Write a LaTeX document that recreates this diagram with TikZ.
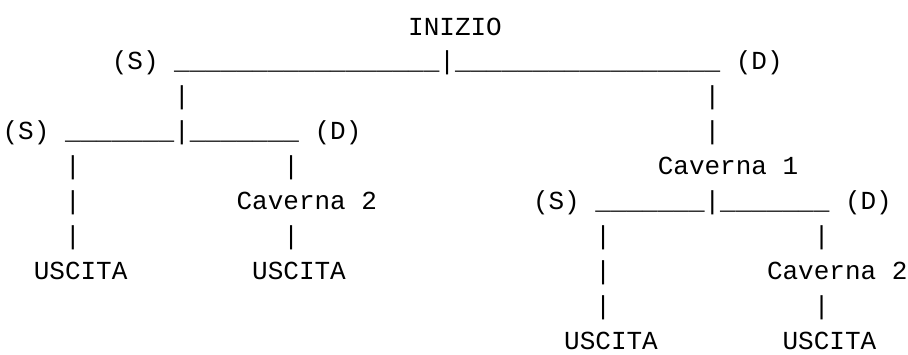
\documentclass[tikz,border=0pt]{standalone}
\usepackage{fontspec}
\newfontfamily\asciifont{Liberation Mono}
\tikzset{
  txt/.style={anchor=base west, inner sep=0pt, outer sep=0pt, text=black,
    font=\asciifont\fontsize{26}{26}\selectfont}
}
% token: name, line, column, text (monospace cell = 15.6pt)
\newcommand\tok[4]{\node[txt] (#1) at ({2.6+15.6*#3},{35+34.9*(#2-1)}) {#4};}
\newcommand\usA{\_\_\_\_\_\_\_}
\newcommand\usB{\_\_\_\_\_\_\_\_\_\_\_\_\_\_\_\_\_}
\begin{document}
\begin{tikzpicture}[x=1pt,y=-1pt]
\useasboundingbox (0,0) rectangle (908,354);
\fill[white] (0,0) rectangle (908,354);
% line 1
\tok{inizio}{1}{26}{INIZIO}
% line 2
\tok{sA}{2}{7}{(S)}
\tok{ulA}{2}{11}{\usB}
\tok{barA}{2}{28}{\textbar}
\tok{urA}{2}{29}{\usB}
\tok{dA}{2}{47}{(D)}
% line 3
\tok{vA1}{3}{11}{\textbar}
\tok{vB1}{3}{45}{\textbar}
% line 4
\tok{sB}{4}{0}{(S)}
\tok{ulB}{4}{4}{\usA}
\tok{barB}{4}{11}{\textbar}
\tok{urB}{4}{12}{\usA}
\tok{dB}{4}{20}{(D)}
\tok{vB2}{4}{45}{\textbar}
% line 5
\tok{vC1}{5}{4}{\textbar}
\tok{vD1}{5}{18}{\textbar}
\tok{cav1}{5}{42}{Caverna 1}
% line 6
\tok{vC2}{6}{4}{\textbar}
\tok{cav2a}{6}{15}{Caverna 2}
\tok{sC}{6}{34}{(S)}
\tok{ulC}{6}{38}{\usA}
\tok{barC}{6}{45}{\textbar}
\tok{urC}{6}{46}{\usA}
\tok{dC}{6}{54}{(D)}
% line 7
\tok{vC3}{7}{4}{\textbar}
\tok{vD2}{7}{18}{\textbar}
\tok{vE1}{7}{38}{\textbar}
\tok{vF1}{7}{52}{\textbar}
% line 8
\tok{usc1}{8}{2}{USCITA}
\tok{usc2}{8}{16}{USCITA}
\tok{vE2}{8}{38}{\textbar}
\tok{cav2b}{8}{49}{Caverna 2}
% line 9
\tok{vE3}{9}{38}{\textbar}
\tok{vF2}{9}{52}{\textbar}
% line 10
\tok{usc3}{10}{36}{USCITA}
\tok{usc4}{10}{50}{USCITA}
\end{tikzpicture}
\end{document}
